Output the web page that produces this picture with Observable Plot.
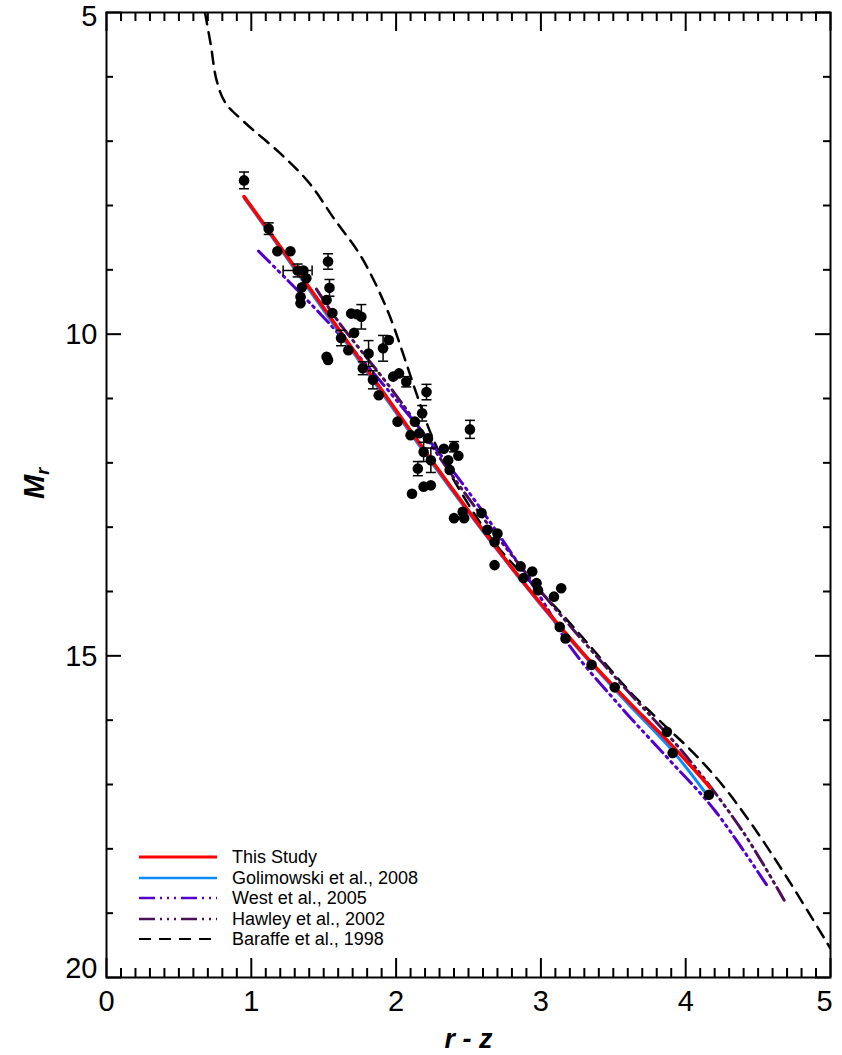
<!DOCTYPE html>
<html><head><meta charset="utf-8">
<script src="https://cdn.jsdelivr.net/npm/d3@7"></script>
<script src="https://cdn.jsdelivr.net/npm/@observablehq/plot@0.6"></script>
<style>
body{margin:0;background:#fff;font-family:"Liberation Sans",Arial,sans-serif}
#wrap{position:relative;width:842px;height:1055px}
svg{display:block}
#legend{position:absolute;left:139px;top:847px;font-size:18px;line-height:20.5px;color:#000}
#legend .row{display:flex;align-items:center;height:20.5px;white-space:nowrap}
#legend svg{margin-right:15px}
</style>
</head><body><div id="wrap"><div id="chart"></div><div id="legend"></div></div>
<script>
// ---- data ----
const starX = [0.95,1.12,1.18,1.27,1.32,1.36,1.38,1.35,1.34,1.34,1.53,1.54,1.52,1.56,1.52,1.53,1.62,1.69,1.73,1.76,1.71,1.67,1.77,1.81,1.91,1.95,1.84,1.88,1.98,2.02,2.07,2.21,2.18,2.01,2.13,2.10,2.16,2.22,2.19,2.24,2.15,2.11,2.19,2.24,2.51,2.33,2.40,2.43,2.36,2.37,2.40,2.46,2.47,2.59,2.63,2.70,2.68,2.68,2.86,2.94,2.88,2.97,2.98,3.14,3.09,3.13,3.17,3.35,3.51,3.87,3.91,4.16];
const starY = [7.61,8.36,8.71,8.71,9.01,9.01,9.13,9.27,9.42,9.52,8.87,9.28,9.47,9.67,10.35,10.40,10.06,9.68,9.69,9.73,9.98,10.25,10.53,10.30,10.22,10.09,10.71,10.95,10.66,10.61,10.74,10.90,11.23,11.36,11.36,11.57,11.54,11.62,11.83,11.96,12.09,12.48,12.37,12.35,11.48,11.78,11.75,11.89,11.96,12.11,12.86,12.76,12.86,12.78,13.04,13.10,13.23,13.59,13.61,13.69,13.79,13.87,13.98,13.95,14.08,14.55,14.73,15.14,15.49,16.18,16.51,17.16];
const starErr = [0.13,0.09,0,0,0.10,0,0,0,0,0,0.12,0.13,0,0,0,0,0.12,0,0,0.19,0,0,0.10,0.20,0.20,0,0.14,0,0,0,0.08,0.12,0.12,0,0,0,0,0,0.15,0.19,0.11,0,0,0,0.14,0,0.08,0,0,0,0,0,0,0,0,0,0,0,0,0,0,0,0,0,0,0,0,0,0,0,0,0];
const starXErr = [0,0,0,0,0.10,0,0,0,0,0,0,0,0,0,0,0,0,0,0,0,0,0,0,0,0,0,0,0,0,0,0,0,0,0,0,0,0,0,0,0,0,0,0,0,0,0,0,0,0,0,0,0,0,0,0,0,0,0,0,0,0,0,0,0,0,0,0,0,0,0,0,0];

const thisX = [0.95,1.2,1.5,1.8,2.1,2.4,2.7,3.0,3.3,3.6,3.9,4.17];
const thisY = [7.86,8.64,9.59,10.55,11.50,12.44,13.34,14.19,14.98,15.70,16.38,17.05];
const goliX = [0.95,1.2,1.5,1.8,2.1,2.4,2.7,3.0,3.3,3.6,3.9,4.16];
const goliY = [7.88,8.67,9.63,10.59,11.54,12.47,13.36,14.21,15.00,15.74,16.45,17.20];
const westX = [1.05,1.5,2.0,2.5,3.0,3.2,3.55,3.88,4.2,4.57];
const westY = [8.71,9.74,11.02,12.45,14.10,14.85,15.79,16.60,17.40,18.60];
const hawleyX = [1.45,1.6,2.0,2.5,3.0,3.5,4.0,4.4,4.68];
const hawleyY = [9.30,9.80,10.95,12.55,14.00,15.30,16.55,17.75,18.80];
const baraffeX = [0.68,0.72,0.76,0.82,0.95,1.2,1.4,1.57,1.76,1.94,2.07,2.14,2.25,2.41,2.7,3.12,3.39,3.62,3.83,4.05,4.25,4.45,4.7,5.0];
const baraffeY = [5.0,5.5,6.05,6.4,6.7,7.19,7.65,8.2,8.8,9.63,10.45,10.92,11.6,12.31,13.3,14.29,14.98,15.57,16.03,16.5,17.0,17.6,18.45,19.55];

const seriesNames = ["This Study","Golimowski et al., 2008","West et al., 2005","Hawley et al., 2002","Baraffe et al., 1998"];
const xMajor = [0,1,2,3,4,5];
const xMinor = d3.range(0,50).map(i=>i/10).filter(v=>!xMajor.includes(v));
const yMajor = [5,10,15,20];
const yMinor = d3.range(5,21).filter(v=>!yMajor.includes(v));

// ---- styles ----
const styles = [
  {stroke:"#ff0000", strokeWidth:3.5, dash:null},
  {stroke:"#0a8cff", strokeWidth:3, dash:null},
  {stroke:"#5200cc", strokeWidth:3, dash:"16,5,2,5,2,5,2,5"},
  {stroke:"#4a1058", strokeWidth:3, dash:"16,5,2,5,2,5,2,5"},
  {stroke:"#000000", strokeWidth:2.5, dash:"12,8"}
];
const seriesX = [thisX, goliX, westX, hawleyX, baraffeX];
const seriesY = [thisY, goliY, westY, hawleyY, baraffeY];
const lines = seriesNames.map((n,i)=>seriesX[i].map((x,j)=>({x, y: seriesY[i][j], name:n})));

const stars = starX.map((x,i)=>({x, y: starY[i], e: starErr[i], ex: starXErr[i]}));
const errs = stars.filter(d=>d.e>0);
const xerrs = stars.filter(d=>d.ex>0);

const W = 842, H = 1055, mL = 106, mR = 12, mT = 12, mB = 78;
const pw = W-mL-mR, ph = H-mT-mB;
const capH = {draw(ctx){ ctx.moveTo(-5,0); ctx.lineTo(5,0); }};
const capV = {draw(ctx){ ctx.moveTo(0,-5); ctx.lineTo(0,5); }};
const fmt = d => String(d);
const lab = {tickSize:0, fontSize:29, label:null, fill:"#000", tickFormat: fmt};

const chart = Plot.plot({
  width: W, height: H,
  marginLeft: mL, marginRight: mR, marginTop: mT, marginBottom: mB,
  style: {fontFamily: '"Liberation Sans", Arial, sans-serif', background: "#fff"},
  x: {domain:[0,5], axis: null},
  y: {domain:[5,20], reverse:true, axis: null},
  marks: [
    // tick labels
    Plot.axisX(xMajor.slice(0,5), {anchor:"bottom", tickPadding:13, ...lab}),
    Plot.axisX([5], {anchor:"bottom", tickPadding:13, dx:-6, ...lab}),
    Plot.axisY([5], {anchor:"left", tickPadding:9, dy:4, ...lab}),
    Plot.axisY([10,15], {anchor:"left", tickPadding:9, dy:1, ...lab}),
    Plot.axisY([20], {anchor:"left", tickPadding:9, dy:-9, ...lab}),
    // ticks, all four sides, inward
    Plot.tickX(xMajor, {x:d=>d, insetTop: ph-19, stroke:"#000", strokeWidth:2}),
    Plot.tickX(xMajor, {x:d=>d, insetBottom: ph-19, stroke:"#000", strokeWidth:2}),
    Plot.tickX(xMinor, {x:d=>d, insetTop: ph-9, stroke:"#000", strokeWidth:2}),
    Plot.tickX(xMinor, {x:d=>d, insetBottom: ph-9, stroke:"#000", strokeWidth:2}),
    Plot.tickY(yMajor, {y:d=>d, insetRight: pw-15, stroke:"#000", strokeWidth:2}),
    Plot.tickY(yMajor, {y:d=>d, insetLeft: pw-15, stroke:"#000", strokeWidth:2}),
    Plot.tickY(yMinor, {y:d=>d, insetRight: pw-7, stroke:"#000", strokeWidth:2}),
    Plot.tickY(yMinor, {y:d=>d, insetLeft: pw-7, stroke:"#000", strokeWidth:2}),
    // model lines
    ...lines.map((L,i)=>Plot.line(L, {x:"x", y:"y", curve:"catmull-rom", stroke: styles[i].stroke, strokeWidth: styles[i].strokeWidth, strokeDasharray: styles[i].dash, clip:true})).reverse(),
    // error bars
    Plot.ruleX(errs, {x:"x", y1:d=>d.y-d.e, y2:d=>d.y+d.e, stroke:"#000", strokeWidth:1.5}),
    Plot.dot(errs, {x:"x", y:d=>d.y-d.e, symbol:capH, stroke:"#000", strokeWidth:1.5, fill:"none"}),
    Plot.dot(errs, {x:"x", y:d=>d.y+d.e, symbol:capH, stroke:"#000", strokeWidth:1.5, fill:"none"}),
    Plot.ruleY(xerrs, {y:"y", x1:d=>d.x-d.ex, x2:d=>d.x+d.ex, stroke:"#000", strokeWidth:1.5}),
    Plot.dot(xerrs, {x:d=>d.x-d.ex, y:"y", symbol:capV, stroke:"#000", strokeWidth:1.5, fill:"none"}),
    Plot.dot(xerrs, {x:d=>d.x+d.ex, y:"y", symbol:capV, stroke:"#000", strokeWidth:1.5, fill:"none"}),
    // stars
    Plot.dot(stars, {x:"x", y:"y", r:5.3, fill:"#000", stroke:null}),
    Plot.frame({stroke:"#000", strokeWidth:2}),
    // axis titles
    Plot.text(["r - z"], {frameAnchor:"bottom", dy: 70, text:d=>d, fontSize:27, fontWeight:"bold", fontStyle:"italic", fill:"#000"}),
    Plot.text(["M"], {frameAnchor:"left", dx:-72, dy:4, rotate:-90, text:d=>d, fontSize:29, fontWeight:"bold", fontStyle:"italic", fill:"#000", className:"ylab"})
  ]
});
document.getElementById("chart").appendChild(chart);
// subscript r on the y title
d3.select(chart).selectAll(".ylab text").append("tspan").attr("dy","0.3em").attr("font-size","18px").text("r");

// legend (inside the plot, lower left)
const leg = d3.select("#legend");
seriesNames.forEach((n,i)=>{
  const row = leg.append("div").attr("class","row");
  const s = row.append("svg").attr("width",78).attr("height",10);
  s.append("line").attr("x1",0).attr("x2",78).attr("y1",5).attr("y2",5)
    .attr("stroke",styles[i].stroke).attr("stroke-width",styles[i].strokeWidth-0.5)
    .attr("stroke-dasharray",styles[i].dash);
  row.append("span").text(n);
});
</script></body></html>
